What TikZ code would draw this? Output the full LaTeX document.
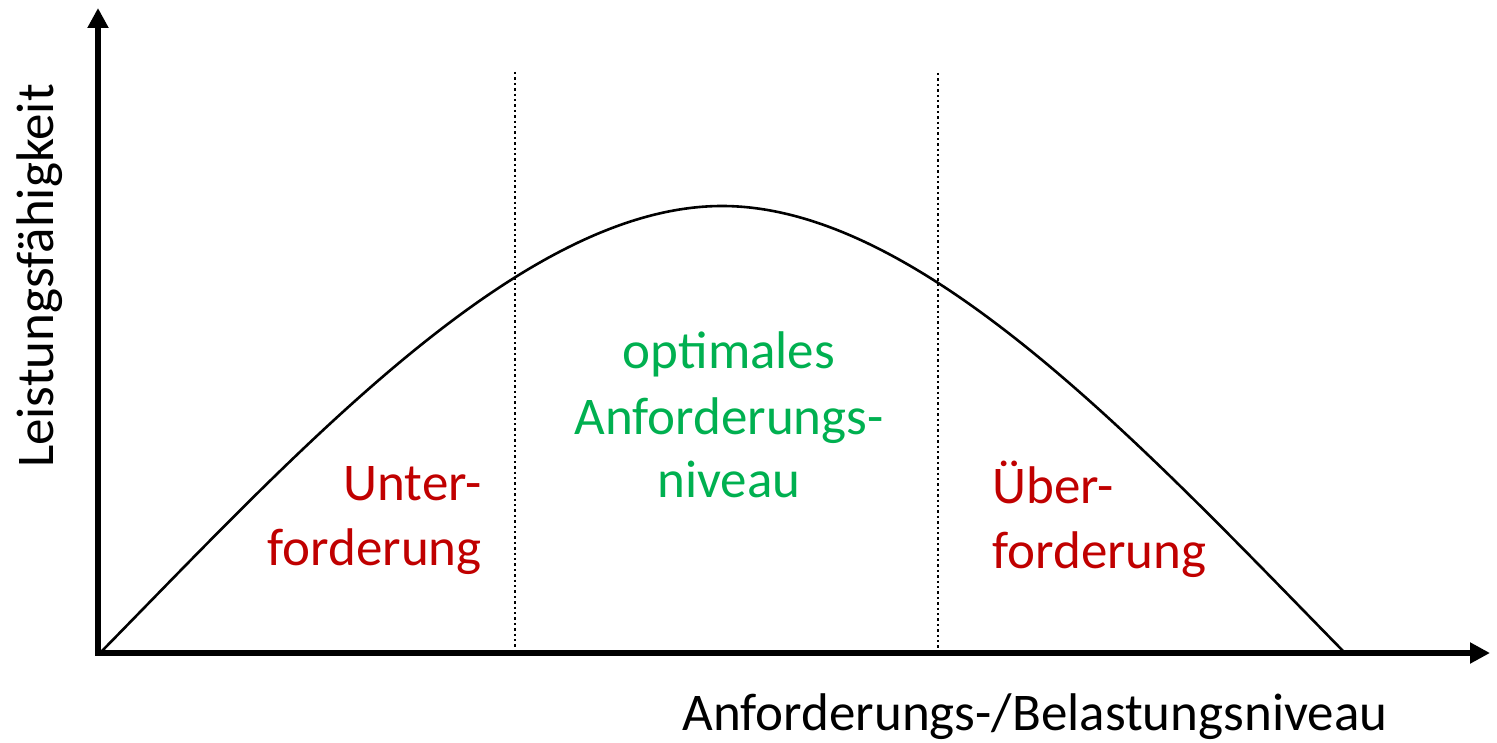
\documentclass[tikz,border=0pt]{standalone}
\usepackage{fontspec}
\setmainfont{Carlito}
\usetikzlibrary{arrows.meta}
\definecolor{redtxt}{HTML}{C00000}
\definecolor{greentxt}{HTML}{00B050}
\tikzset{
  axis/.style={line width=3pt, {Triangle[length=10pt,width=10pt]}-{Triangle[length=10pt,width=10pt]}},
  curve/.style={line width=1.3pt},
  divider/.style={line width=1.2pt, dash pattern=on 1.2pt off 1.5pt},
  lbl/.style={font=\fontsize{26.5pt}{32pt}\selectfont, inner sep=0pt},
  redlbl/.style={lbl, text=redtxt},
  greenlbl/.style={lbl, text=greentxt, anchor=base}
}
\begin{document}
\begin{tikzpicture}[x=0.5pt,y=-0.5pt]
\useasboundingbox (0,0) rectangle (1497,743);
% axes
\coordinate (ytop) at (98,8);
\coordinate (origin) at (98,653);
\coordinate (xend) at (1490,653);
\draw[axis] (ytop) -- (origin) -- (xend);
% dividers
\coordinate (d1t) at (515,72);
\coordinate (d1b) at (515,651);
\coordinate (d2t) at (938,73);
\coordinate (d2b) at (938,651);
\draw[divider] (d1t) -- (d1b);
\draw[divider] (d2t) -- (d2b);
% curve
\coordinate (c0) at (100,653);
\coordinate (cp) at (722,206);
\coordinate (c1) at (1345,653);
\draw[curve] (c0) .. controls (300,449) and (522,206) .. (cp)
  .. controls (922,206) and (1145,449) .. (c1);
% axis labels
\node[lbl, rotate=90, anchor=base] (ylabel) at (53,276) {Leistungsfähigkeit};
\node[lbl, anchor=base] (xlabel) at (1035,730) {Anforderungs-/Belastungsniveau};
% region labels
\node[redlbl, anchor=base east] (u1) at (482,500) {Unter-};
\node[redlbl, anchor=base east] (u2) at (482,565) {forderung};
\node[greenlbl] (o1) at (729,368) {optimales};
\node[greenlbl] (o2) at (729,434) {Anforderungs-};
\node[greenlbl] (o3) at (729,497) {niveau};
\node[redlbl, anchor=base west] (ue1) at (992,503) {Über-};
\node[redlbl, anchor=base west] (ue2) at (992,568) {forderung};
\end{tikzpicture}
\end{document}
